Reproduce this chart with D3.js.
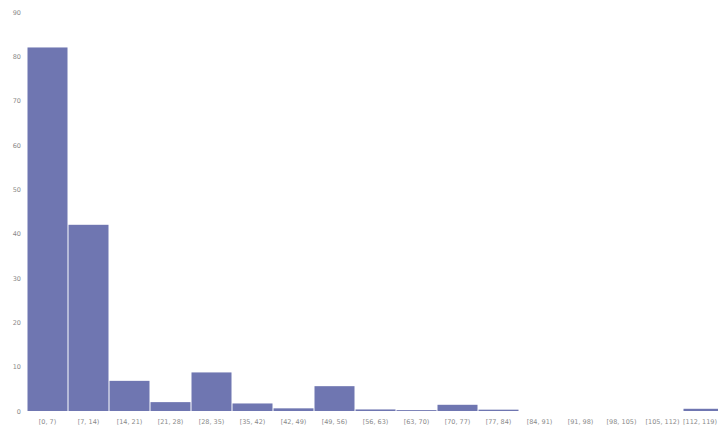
<!DOCTYPE html>
<html><head><meta charset="utf-8">
<script src="https://cdn.jsdelivr.net/npm/d3@7"></script>
<style>body{margin:0;background:#fff;overflow:hidden}svg{display:block}</style>
</head><body>
<svg id="c" width="718" height="434"></svg>
<script>
const binStarts = [0,7,14,21,28,35,42,49,56,63,70,77,84,91,98,105,112];
const binWidth = 7;
const counts = [82,42,6.8,2,8.7,1.7,0.6,5.6,0.35,0.2,1.4,0.3,0,0,0,0,0.5];
const yTicks = [0,10,20,30,40,50,60,70,80,90];
const labels = binStarts.map(s => `[${s}, ${s+binWidth})`);

const svg = d3.select("#c");
const x = d3.scaleLinear().domain([0,119]).range([27,724]);
const y = d3.scaleLinear().domain([0,90]).range([411,12]);

svg.selectAll("rect.bar").data(counts).join("rect")
  .attr("class","bar")
  .attr("x",(d,i)=>x(binStarts[i])+0.5)
  .attr("width",(d,i)=>x(binStarts[i]+binWidth)-x(binStarts[i])-1)
  .attr("y",d=>y(d))
  .attr("height",d=>y(0)-y(d))
  .attr("fill","#6f76b1");

const yAxis = d3.axisLeft(y).tickValues(yTicks).tickSize(0).tickPadding(0);
const gy = svg.append("g").attr("transform","translate(21,0)").call(yAxis);
gy.select(".domain").remove();
gy.selectAll("text").attr("font-family","DejaVu Sans").attr("font-size",6.5).attr("fill","#8a8a8a");

const xb = d3.scaleBand().domain(labels).range([x(0), x(119)]);
const xAxis = d3.axisBottom(xb).tickSize(0).tickPadding(0);
const gx = svg.append("g").attr("transform","translate(0,419)").call(xAxis);
gx.select(".domain").remove();
gx.selectAll("text").attr("font-family","DejaVu Sans").attr("font-size",6.5).attr("fill","#8a8a8a");
// keep the last label inside the window
gx.selectAll(".tick").filter((d,i,n)=>i===n.length-1).each(function(){
  const t = d3.select(this);
  const tx = +t.attr("transform").match(/translate\(([-\d.]+)/)[1];
  t.select("text").attr("text-anchor","end").attr("x",717-tx);
});
</script>
</body></html>
